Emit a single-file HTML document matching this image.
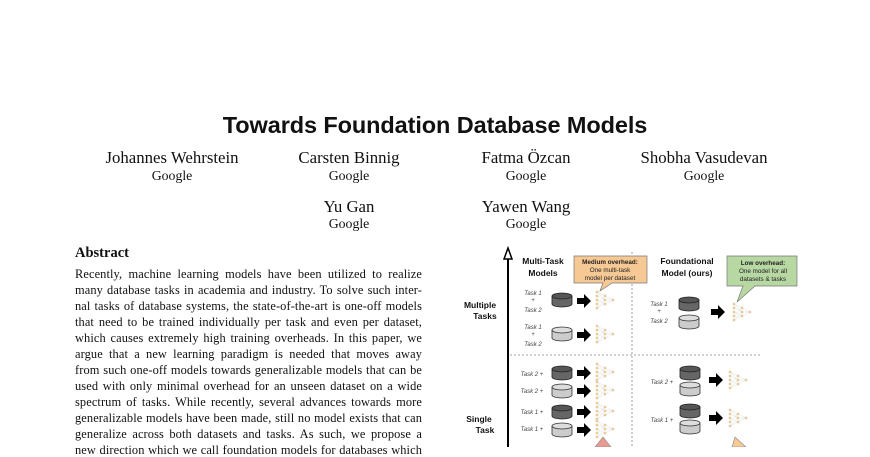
<!DOCTYPE html>
<html><head><meta charset="utf-8"><style>
body{margin:0;width:870px;height:447px;overflow:hidden;background:#fff;position:relative;font-family:"Liberation Serif",serif;color:#111}
.a{position:absolute;text-align:center;white-space:nowrap}
.n{font-size:16.8px;transform:translateX(-50%)}
.g{font-size:13.8px;transform:translateX(-50%)}
.l{position:absolute;left:75px;width:347px;font-size:12.4px;letter-spacing:0.1px;text-align:justify;text-align-last:justify;white-space:nowrap;line-height:14px}
</style></head><body>
<div class="a" style="left:0;width:870px;top:112px;font-family:'Liberation Sans',sans-serif;font-weight:bold;font-size:23.5px;letter-spacing:-0.1px">Towards Foundation Database Models</div>
<div class="a n" style="left:172px;top:148px">Johannes Wehrstein</div>
<div class="a g" style="left:172px;top:168px">Google</div>
<div class="a n" style="left:349px;top:148px">Carsten Binnig</div>
<div class="a g" style="left:349px;top:168px">Google</div>
<div class="a n" style="left:526px;top:148px">Fatma Özcan</div>
<div class="a g" style="left:526px;top:168px">Google</div>
<div class="a n" style="left:704px;top:148px">Shobha Vasudevan</div>
<div class="a g" style="left:704px;top:168px">Google</div>
<div class="a n" style="left:349px;top:197px">Yu Gan</div>
<div class="a g" style="left:349px;top:216px">Google</div>
<div class="a n" style="left:526px;top:197px">Yawen Wang</div>
<div class="a g" style="left:526px;top:216px">Google</div>
<div class="a" style="left:75px;top:245px;font-weight:bold;font-size:14.5px">Abstract</div>
<div class="l" style="top:267px">Recently, machine learning models have been utilized to realize</div>
<div class="l" style="top:283px">many database tasks in academia and industry. To solve such inter-</div>
<div class="l" style="top:299px">nal tasks of database systems, the state-of-the-art is one-off models</div>
<div class="l" style="top:315px">that need to be trained individually per task and even per dataset,</div>
<div class="l" style="top:331px">which causes extremely high training overheads. In this paper, we</div>
<div class="l" style="top:347px">argue that a new learning paradigm is needed that moves away</div>
<div class="l" style="top:363px">from such one-off models towards generalizable models that can be</div>
<div class="l" style="top:379px">used with only minimal overhead for an unseen dataset on a wide</div>
<div class="l" style="top:395px">spectrum of tasks. While recently, several advances towards more</div>
<div class="l" style="top:411px">generalizable models have been made, still no model exists that can</div>
<div class="l" style="top:427px">generalize across both datasets and tasks. As such, we propose a</div>
<div class="l" style="top:443px">new direction which we call foundation models for databases which</div>
<svg style="position:absolute;left:0;top:0" width="870" height="447" font-family="Liberation Sans,sans-serif">
<defs>
<g id="cd"><ellipse cx="10" cy="11" rx="10" ry="3" fill="#666" stroke="#222" stroke-width="0.8"/><rect x="0" y="3" width="20" height="8" fill="#666"/><line x1="0" y1="3" x2="0" y2="11" stroke="#222" stroke-width="0.8"/><line x1="20" y1="3" x2="20" y2="11" stroke="#222" stroke-width="0.8"/><ellipse cx="10" cy="3" rx="10" ry="3" fill="#555" stroke="#222" stroke-width="0.8"/></g>
<g id="cl"><ellipse cx="10" cy="11" rx="10" ry="3" fill="#ccc" stroke="#333" stroke-width="0.8"/><rect x="0" y="3" width="20" height="8" fill="#ccc"/><line x1="0" y1="3" x2="0" y2="11" stroke="#333" stroke-width="0.8"/><line x1="20" y1="3" x2="20" y2="11" stroke="#333" stroke-width="0.8"/><ellipse cx="10" cy="3" rx="10" ry="3" fill="#ddd" stroke="#333" stroke-width="0.8"/></g>
<path id="ar" d="M0,-3H7V-7L14,0L7,7V3H0Z" fill="#000"/>
<g id="nt" stroke="#ddd" stroke-width="0.5" fill="#f5c77e"><path d="M0,-8L8,-4L16,0M0,-4L8,0L16,0M0,0L8,4L16,0M0,4L8,-4M0,8L8,4M0,-8L8,0M0,8L8,0" fill="none"/><circle cx="0" cy="-8" r="1.3"/><circle cx="0" cy="-4" r="1.3"/><circle cx="0" cy="0" r="1.3"/><circle cx="0" cy="4" r="1.3"/><circle cx="0" cy="8" r="1.3"/><circle cx="8" cy="-4" r="1.3"/><circle cx="8" cy="0" r="1.3"/><circle cx="8" cy="4" r="1.3"/><circle cx="16" cy="0" r="1.3"/></g>
</defs>
<line x1="508" y1="256" x2="508" y2="447" stroke="#000" stroke-width="2"/>
<path d="M504,259L508,248L512,259Z" fill="#fff" stroke="#000" stroke-width="1.5"/>
<line x1="632" y1="252" x2="632" y2="447" stroke="#888" stroke-width="0.8" stroke-dasharray="2,2"/>
<line x1="510" y1="355" x2="760" y2="355" stroke="#888" stroke-width="0.8" stroke-dasharray="2,2"/>
<g font-weight="bold" font-size="8.5" text-anchor="middle" fill="#111">
<text x="543" y="264">Multi-Task</text><text x="543" y="276">Models</text>
<text x="687" y="264">Foundational</text><text x="687" y="276">Model (ours)</text>
<text x="480" y="308">Multiple</text><text x="485" y="319">Tasks</text>
<text x="479" y="422">Single</text><text x="485" y="433">Task</text>
</g>
<path d="M574,256H647V283H612L600,291L603,283H574Z" fill="#f6c894" stroke="#777" stroke-width="0.7"/>
<g font-size="6.3" text-anchor="middle" fill="#222"><text x="610" y="264" font-weight="bold">Medium overhead:</text><text x="610" y="272">One multi-task</text><text x="610" y="280">model per dataset</text></g>
<path d="M727,256H797V286H755L737,302L743,286H727Z" fill="#b7d7a3" stroke="#777" stroke-width="0.7"/>
<g font-size="6.3" text-anchor="middle" fill="#222"><text x="763" y="265" font-weight="bold">Low overhead:</text><text x="763" y="273">One model for all</text><text x="763" y="281">datasets &amp; tasks</text></g>
<g font-size="6" font-style="italic" fill="#444" text-anchor="middle">
<text x="533" y="295">Task 1</text><text x="533" y="302">+</text><text x="533" y="312">Task 2</text>
<text x="533" y="329">Task 1</text><text x="533" y="336">+</text><text x="533" y="346">Task 2</text>
<text x="659" y="306">Task 1</text><text x="659" y="313">+</text><text x="659" y="323">Task 2</text>
<text x="532" y="376">Task 2 +</text><text x="532" y="393">Task 2 +</text><text x="532" y="414">Task 1 +</text><text x="532" y="431">Task 1 +</text>
<text x="662" y="384">Task 2 +</text><text x="662" y="422">Task 1 +</text>
</g>
<use href="#cd" x="552" y="293"/><use href="#ar" x="577" y="301"/><use href="#nt" x="597" y="300"/>
<use href="#cl" x="552" y="327"/><use href="#ar" x="577" y="335"/><use href="#nt" x="597" y="334"/>
<use href="#cd" x="679" y="297"/><use href="#cl" x="679" y="315"/><use href="#ar" x="711" y="312"/><use href="#nt" x="734" y="312"/>
<use href="#cd" x="552" y="366"/><use href="#ar" x="577" y="373"/><use href="#nt" x="597" y="372"/>
<use href="#cl" x="552" y="384"/><use href="#ar" x="577" y="391"/><use href="#nt" x="597" y="390"/>
<use href="#cd" x="552" y="405"/><use href="#ar" x="577" y="412"/><use href="#nt" x="597" y="411"/>
<use href="#cl" x="552" y="423"/><use href="#ar" x="577" y="430"/><use href="#nt" x="597" y="429"/>
<use href="#cd" x="680" y="366"/><use href="#cl" x="680" y="382"/><use href="#ar" x="709" y="380"/><use href="#nt" x="730" y="380"/>
<use href="#cd" x="680" y="404"/><use href="#cl" x="680" y="420"/><use href="#ar" x="709" y="418"/><use href="#nt" x="730" y="418"/>
<path d="M595,447L603,437L611,447Z" fill="#e89a90" stroke="#888" stroke-width="0.6"/>
<path d="M732,447L735,437L746,447Z" fill="#f6c894" stroke="#888" stroke-width="0.6"/>
</svg>
</body></html>
